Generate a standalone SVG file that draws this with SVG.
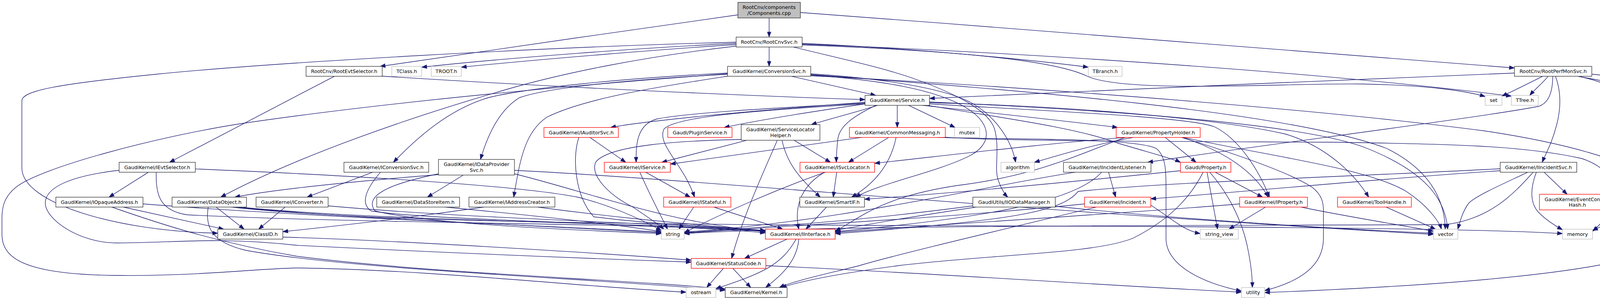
<svg xmlns="http://www.w3.org/2000/svg" width="4525" height="768" viewBox="0 0 4525 768">
<style>
.n rect{fill:#fff;stroke-width:1.33}
.k rect{stroke:#333}
.r rect{stroke:#f00}
.g rect{stroke:#bfbfbf}
.root rect{fill:#bfbfbf;stroke:#333}
text{font-family:"DejaVu Sans","Liberation Sans",sans-serif;font-size:12.7px;text-anchor:middle;fill:#000}
#edges path{fill:none;stroke:#191970;stroke-width:1.33;marker-end:url(#a)}
</style>
<defs>
<marker id="a" markerUnits="userSpaceOnUse" markerWidth="14" markerHeight="10" refX="13" refY="4.7" orient="auto" overflow="visible"><path d="M0,0 L13,4.7 L0,9.4 Z" fill="#191970" stroke="#191970" stroke-width="1"/></marker>
</defs>
<rect x="0" y="0" width="4525" height="768" fill="#fff"/>
<g id="edges">
<path d="M1969,46 L1969,95"/>
<path d="M1889,38 C1600,80 1250,128 973,170"/>
<path d="M2049,32 C2700,80 3400,138 3877,174"/>
<path d="M1969,120.4 L1969,170"/>
<path d="M1884.5,111 C1650,122 1300,148 1079.5,172"/>
<path d="M1884.5,114 C1700,126 1400,150 1181,172"/>
<path d="M1884.5,108 C1400,120 700,160 400,190 C150,215 56,232 56,258 L56,430 C56,520 300,592 557.5,597"/>
<path d="M1884.5,118 C1650,145 1450,185 1300,228 C1050,300 760,400 565,504.7"/>
<path d="M2053.5,111 C2300,122 2600,148 2786,172"/>
<path d="M2053.5,113 C2500,130 3300,175 3869,246"/>
<path d="M2053.5,115 C2400,128 2690,150 2783,195 C2880,240 3300,212 3485,215 C3650,218 3750,232 3802,247"/>
<path d="M2031,120.4 C2150,150 2260,172 2350,205 C2450,242 2530,282 2546,330 C2560,380 2545,430 2555,460 C2562,480 2570,495 2580,504.7"/>
<path d="M856,195.3 L434,415.5"/>
<path d="M978.5,195 C1400,222 1900,245 2214.5,255"/>
<path d="M3877,187 C3500,200 2700,238 2379.5,252"/>
<path d="M3949,195.3 C3910,215 3880,230 3845,246"/>
<path d="M3963,195.3 C3950,212 3930,228 3916,244.2"/>
<path d="M4040,195.3 C4120,210 4220,230 4286,244.2"/>
<path d="M4075,190 C4250,205 4400,230 4458,244.2"/>
<path d="M3982,195.3 C3995,230 3998,270 3985,320 C3972,370 3956,395 3948,415.5"/>
<path d="M3975,195.3 C3975,240 3962,264 3940,272 C3800,300 3200,375 2938,415.5"/>
<path d="M4040,195.3 C4140,215 4225,270 4225,340 L4225,430 C4225,490 4180,545 4077,590"/>
<path d="M2026,195.3 L2242,244.2"/>
<path d="M1862.5,187 C1600,200 1350,225 1250,250 C1150,280 1070,350 1007,415.5"/>
<path d="M1862.5,190 C1600,205 1400,225 1330,250 C1280,280 1250,340 1230,408.2"/>
<path d="M1862.5,195 C1700,220 1500,250 1400,300 C1340,340 1330,420 1315,504.7"/>
<path d="M2075.5,189 C2250,200 2420,225 2490,265 C2550,300 2590,360 2600,415.5"/>
<path d="M2075.5,192 C2250,205 2400,228 2480,280 C2540,320 2540,370 2480,400 C2400,440 2250,470 2190,504.7"/>
<path d="M2075.5,194 C2500,215 3300,270 3800,335 C4100,380 4274,450 4274,520 L4274,600 C4274,700 3600,735 3237.5,749"/>
<path d="M2075.5,191 C2600,230 3300,285 3550,380 C3670,440 3698,520 3700,586.7"/>
<path d="M1862.5,189 C1500,215 1000,260 620,316 C400,350 100,430 40,480 C10,505 5,530 5,560 L5,600 C5,660 60,702 290,705 C500,708 650,688 760,686 C1100,690 1500,735 1756.5,748"/>
<path d="M2214.5,262 C1900,285 1650,310 1563,326.4"/>
<path d="M2214.5,266 C2050,290 1920,312 1854,326.4"/>
<path d="M2247,269.6 C2190,288 2120,305 2077,319.1"/>
<path d="M2297,269.6 L2297,326.4"/>
<path d="M2326,269.6 L2445,326.4"/>
<path d="M2361,269.6 C2500,285 2750,312 2861,326.4"/>
<path d="M2214.5,264 C1950,278 1750,290 1680,305 C1630,320 1628,370 1628.5,415.5"/>
<path d="M2214.5,266 C1900,285 1730,300 1700,330 C1680,370 1750,420 1778,504.7"/>
<path d="M2242,269.6 C2190,295 2150,320 2145,355 C2142,380 2141,400 2141,415.5"/>
<path d="M2375,269.6 C2550,300 2750,325 2860,366 C2940,390 3000,405 3022,415.5"/>
<path d="M2379.5,266 C2700,285 3050,300 3110,325 C3170,355 3220,430 3250,504.7"/>
<path d="M2379.5,263 C2700,270 3100,300 3290,343 C3400,375 3470,450 3504,504.7"/>
<path d="M2379.5,261 C2900,285 3350,320 3500,380 C3650,440 3700,510 3706,586.7"/>
<path d="M3030,351.8 C3250,400 3500,430 3600,490 C3660,530 3685,570 3690,586.7"/>
<path d="M3025,351.8 C3150,390 3300,440 3360,480 C3385,500 3388,520 3388,540 L3388,610 C3388,680 3330,720 3237.5,744"/>
<path d="M2983,351.8 L3062,415.5"/>
<path d="M3028,351.8 C3140,390 3210,440 3247,504.7"/>
<path d="M2883,351.8 C2700,365 2450,395 2239,418"/>
<path d="M2901,351.8 C2800,370 2720,395 2648,415.5"/>
<path d="M2880,351.8 C2750,400 2650,450 2450,475 C2250,505 2200,560 2138,592"/>
<path d="M3111,440.9 L3232,504.7"/>
<path d="M3090,440.9 L3117,586.7"/>
<path d="M3097,440.9 C3140,490 3180,560 3195,640 C3205,690 3206,720 3206,736.1"/>
<path d="M2400,351.8 C2600,358 2900,352 2960,380 C2985,400 2985,440 2985,480 L2985,610 C2985,680 3080,725 3178,745"/>
<path d="M3080,440.9 C3050,500 3000,560 2900,610 C2800,650 2550,650 2300,680 C2150,700 2050,720 2000,736.1"/>
<path d="M3022,437 C2800,460 2500,490 2213,510"/>
<path d="M3240,530 L3146,586.7"/>
<path d="M3330,530 C3450,555 3580,575 3669.5,592"/>
<path d="M3173.5,522 C2900,545 2400,575 2138,595"/>
<path d="M3548,530 L3675,586.7"/>
<path d="M3840.5,437 C3500,460 3200,490 2946,509"/>
<path d="M3840.5,432 C3400,455 3000,465 2760,490 C2720,540 2600,565 2138,598"/>
<path d="M3911,440.9 C3850,470 3780,500 3760,520 C3745,540 3738,565 3732,586.7"/>
<path d="M3925,440.9 C3880,490 3820,560 3700,575 C3000,578 2100,576 1751.5,598"/>
<path d="M3933,440.9 C3918,480 3915,520 3940,545 C3960,565 3985,580 4000,588"/>
<path d="M3953,440.9 L4012,497.4"/>
<path d="M2838,440.9 L2856,504.7"/>
<path d="M2753,440.9 C2500,480 2150,568 1751.5,594"/>
<path d="M2820,440.9 C2750,520 2500,560 2138,593"/>
<path d="M2807,530 C2600,580 2300,650 2200,680 C2100,705 2030,720 1995,736.1"/>
<path d="M2776.5,522 C2400,560 2100,572 1751.5,597"/>
<path d="M2946,525 C3000,560 3030,590 3072.5,598"/>
<path d="M2701.5,528 C3000,560 3400,585 3669.5,597"/>
<path d="M2490.5,527 C2200,565 2050,574 1751.5,596"/>
<path d="M2500,530 C2300,560 2200,578 2138,590"/>
<path d="M1912,359.1 L1694,415.5"/>
<path d="M2033,359.1 L2126,415.5"/>
<path d="M2002,359.1 C2015,420 2050,460 2100,504.7"/>
<path d="M1990,359.1 C1950,450 1900,560 1873,661.6"/>
<path d="M1897.5,357 C1750,360 1560,370 1525,415 C1510,450 1560,500 1620,530 C1650,550 1680,570 1700,586.7"/>
<path d="M2205,351.8 C2000,380 1850,400 1716,420"/>
<path d="M2275,351.8 L2172,415.5"/>
<path d="M2294,351.8 C2280,420 2240,470 2180,504.7"/>
<path d="M2400,350 C2550,362 3000,362 3400,364 C3700,368 3900,372 4050,406 C4150,440 4160,520 4077,592"/>
<path d="M1638,440.9 C1660,490 1690,550 1709,586.7"/>
<path d="M1653,440.9 L1767,504.7"/>
<path d="M1776,530 L1738,586.7"/>
<path d="M1827,530 L2004,586.7"/>
<path d="M2142,440.9 L2133,504.7"/>
<path d="M2111,440.9 C2060,470 2030,520 2045,586.7"/>
<path d="M2113,440.9 C2000,480 1850,545 1751.5,596"/>
<path d="M2116,530 L2063,586.7"/>
<path d="M2015,612.1 L1906,661.6"/>
<path d="M2038,612.1 C2000,680 1950,700 1832.5,739"/>
<path d="M2045,612.1 C2040,670 2000,705 1960,736.1"/>
<path d="M1852,687 L1809,736.1"/>
<path d="M1876,687 L1922,736.1"/>
<path d="M1960.5,680 C2400,700 2900,735 3178,748"/>
<path d="M380,440.9 L279,504.7"/>
<path d="M305,436 C180,450 116,480 116,520 C116,560 200,622 300,622 C450,622 550,605 760,628 C1200,650 1600,665 1769.5,671"/>
<path d="M400,440.9 C398,500 410,540 480,550 C1000,575 1700,570 1959.5,593"/>
<path d="M500,432.4 C800,445 1300,470 1480,505 C1560,525 1640,560 1693,590"/>
<path d="M315,530 L573,586.7"/>
<path d="M286,530 C400,570 550,620 760,656 C1100,700 1600,715 1856.5,740"/>
<path d="M366,522 C800,556 1400,578 1693,594"/>
<path d="M553,530 L625,586.7"/>
<path d="M533,530 C525,580 540,620 630,641 C900,690 1500,712 1856.5,743"/>
<path d="M591,530 C900,565 1500,575 2500,578 C3200,580 3800,585 4000,598"/>
<path d="M600,530 C900,560 1400,578 1693,596"/>
<path d="M612,530 C1000,568 1700,570 1959.5,592"/>
<path d="M730,530 L662,586.7"/>
<path d="M840,527 C1200,560 1700,571 1959.5,590"/>
<path d="M954,440.9 L786,504.7"/>
<path d="M974,440.9 C940,480 920,520 950,540 C1100,565 1700,572 1959.5,596"/>
<path d="M1122.5,447 C900,465 700,485 601,504.7"/>
<path d="M1186,448.2 L1094,504.7"/>
<path d="M1122.5,445 C1000,470 930,500 960,540 C1100,575 1500,590 1693,598"/>
<path d="M1317,436 C1800,460 2600,540 3669.5,600"/>
<path d="M1317,445 C1500,490 1700,568 1959.5,593"/>
<path d="M1138,530 C1400,555 1600,578 1693,593"/>
<path d="M1240,530 C1100,550 900,575 724,593"/>
<path d="M1375,530 C1600,560 1750,572 1959.5,591"/>
<path d="M1510,351.8 L1602,415.5"/>
<path d="M1482,351.8 C1465,400 1470,500 1520,555 C1700,578 1800,575 1959.5,592"/>
<path d="M724,607 C1000,615 1500,645 1769.5,666"/>
</g>
<g id="node-comp" class="n root"><rect x="1889" y="6" width="160" height="40"/><text x="1969" y="22.5">RootCnv/components</text><text x="1969" y="37.5">/Components.cpp</text></g>
<g id="node-rcs" class="n k"><rect x="1884.5" y="95" width="169" height="25.4"/><text x="1969" y="112.2">RootCnv/RootCnvSvc.h</text></g>
<g id="node-res" class="n k"><rect x="783.5" y="169.9" width="195" height="25.4"/><text x="881" y="187.1">RootCnv/RootEvtSelector.h</text></g>
<g id="node-tclass" class="n g"><rect x="1003" y="169.9" width="76.5" height="25.4"/><text x="1041.3" y="187.1">TClass.h</text></g>
<g id="node-troot" class="n g"><rect x="1104" y="169.9" width="77" height="25.4"/><text x="1142.5" y="187.1">TROOT.h</text></g>
<g id="node-cs" class="n k"><rect x="1862.5" y="169.9" width="213" height="25.4"/><text x="1969" y="187.1">GaudiKernel/ConversionSvc.h</text></g>
<g id="node-tbranch" class="n g"><rect x="2786" y="169.9" width="86.5" height="25.4"/><text x="2829.3" y="187.1">TBranch.h</text></g>
<g id="node-rpm" class="n k"><rect x="3877" y="169.9" width="198" height="25.4"/><text x="3976" y="187.1">RootCnv/RootPerfMonSvc.h</text></g>
<g id="node-svc" class="n k"><rect x="2214.5" y="244.2" width="165" height="25.4"/><text x="2297" y="261.4">GaudiKernel/Service.h</text></g>
<g id="node-set" class="n g"><rect x="3802" y="244.2" width="43" height="25.4"/><text x="3823.5" y="261.4">set</text></g>
<g id="node-ttree" class="n g"><rect x="3869" y="244.2" width="69" height="25.4"/><text x="3903.5" y="261.4">TTree.h</text></g>
<g id="node-sps" class="n k"><rect x="4261.5" y="244.2" width="169.5" height="25.4"/><text x="4346.3" y="261.4">RootCnv/SysProcStat.h</text></g>
<g id="node-tfile" class="n g"><rect x="4455.5" y="244.2" width="64.5" height="25.4"/><text x="4487.8" y="261.4">TFile.h</text></g>
<g id="node-aud" class="n r"><rect x="1392.5" y="326.4" width="190.5" height="25.4"/><text x="1487.8" y="343.6">GaudiKernel/IAuditorSvc.h</text></g>
<g id="node-plugin" class="n r"><rect x="1709.5" y="326.4" width="164.5" height="25.4"/><text x="1791.8" y="343.6">Gaudi/PluginService.h</text></g>
<g id="node-slh" class="n k"><rect x="1897.5" y="319.1" width="201.5" height="40"/><text x="1998.3" y="336.3">GaudiKernel/ServiceLocator</text><text x="1998.3" y="350.9">Helper.h</text></g>
<g id="node-cm" class="n r"><rect x="2174.5" y="326.4" width="245.5" height="25.4"/><text x="2297.3" y="343.6">GaudiKernel/CommonMessaging.h</text></g>
<g id="node-mutex" class="n g"><rect x="2443.5" y="326.4" width="64.5" height="25.4"/><text x="2475.8" y="343.6">mutex</text></g>
<g id="node-ph" class="n r"><rect x="2857.5" y="326.4" width="215" height="25.4"/><text x="2965" y="343.6">GaudiKernel/PropertyHolder.h</text></g>
<g id="node-ies" class="n k"><rect x="305" y="415.5" width="195" height="25.4"/><text x="402.5" y="432.7">GaudiKernel/IEvtSelector.h</text></g>
<g id="node-ics" class="n k"><rect x="880.5" y="415.5" width="217" height="25.4"/><text x="989" y="432.7">GaudiKernel/IConversionSvc.h</text></g>
<g id="node-idp" class="n k"><rect x="1122.5" y="408.2" width="194.5" height="40"/><text x="1219.8" y="425.4">GaudiKernel/IDataProvider</text><text x="1219.8" y="440">Svc.h</text></g>
<g id="node-isvc" class="n r"><rect x="1547" y="415.5" width="169" height="25.4"/><text x="1631.5" y="432.7">GaudiKernel/IService.h</text></g>
<g id="node-isl" class="n r"><rect x="2048" y="415.5" width="191" height="25.4"/><text x="2143.5" y="432.7">GaudiKernel/ISvcLocator.h</text></g>
<g id="node-algo" class="n g"><rect x="2562.5" y="415.5" width="85.5" height="25.4"/><text x="2605.3" y="432.7">algorithm</text></g>
<g id="node-iil" class="n k"><rect x="2722.5" y="415.5" width="224" height="25.4"/><text x="2834.5" y="432.7">GaudiKernel/IIncidentListener.h</text></g>
<g id="node-prop" class="n r"><rect x="3022" y="415.5" width="129" height="25.4"/><text x="3086.5" y="432.7">Gaudi/Property.h</text></g>
<g id="node-iis" class="n k"><rect x="3840.5" y="415.5" width="196" height="25.4"/><text x="3938.5" y="432.7">GaudiKernel/IIncidentSvc.h</text></g>
<g id="node-ioa" class="n k"><rect x="143" y="504.7" width="223" height="25.4"/><text x="254.5" y="521.9">GaudiKernel/IOpaqueAddress.h</text></g>
<g id="node-do" class="n k"><rect x="440.5" y="504.7" width="190.5" height="25.4"/><text x="535.8" y="521.9">GaudiKernel/DataObject.h</text></g>
<g id="node-icv" class="n k"><rect x="655.5" y="504.7" width="184.5" height="25.4"/><text x="747.8" y="521.9">GaudiKernel/IConverter.h</text></g>
<g id="node-dsi" class="n k"><rect x="964.5" y="504.7" width="212" height="25.4"/><text x="1070.5" y="521.9">GaudiKernel/DataStoreItem.h</text></g>
<g id="node-iac" class="n k"><rect x="1200.5" y="504.7" width="220" height="25.4"/><text x="1310.5" y="521.9">GaudiKernel/IAddressCreator.h</text></g>
<g id="node-ist" class="n r"><rect x="1699" y="504.7" width="172" height="25.4"/><text x="1785" y="521.9">GaudiKernel/IStateful.h</text></g>
<g id="node-sif" class="n k"><rect x="2047.5" y="504.7" width="165.5" height="25.4"/><text x="2130.3" y="521.9">GaudiKernel/SmartIF.h</text></g>
<g id="node-iio" class="n k"><rect x="2490.5" y="504.7" width="211" height="25.4"/><text x="2596" y="521.9">GaudiUtils/IIODataManager.h</text></g>
<g id="node-inc" class="n r"><rect x="2776.5" y="504.7" width="169.5" height="25.4"/><text x="2861.3" y="521.9">GaudiKernel/Incident.h</text></g>
<g id="node-iprop" class="n r"><rect x="3173.5" y="504.7" width="173.5" height="25.4"/><text x="3260.3" y="521.9">GaudiKernel/IProperty.h</text></g>
<g id="node-th" class="n r"><rect x="3424" y="504.7" width="189" height="25.4"/><text x="3518.5" y="521.9">GaudiKernel/ToolHandle.h</text></g>
<g id="node-ech" class="n r"><rect x="3941" y="497.4" width="194" height="40"/><text x="4038" y="514.6">GaudiKernel/EventContext</text><text x="4038" y="529.2">Hash.h</text></g>
<g id="node-cid" class="n k"><rect x="557.5" y="586.7" width="166.5" height="25.4"/><text x="640.8" y="603.9">GaudiKernel/ClassID.h</text></g>
<g id="node-string" class="n g"><rect x="1693" y="586.7" width="58.5" height="25.4"/><text x="1722.3" y="603.9">string</text></g>
<g id="node-ii" class="n r"><rect x="1959.5" y="586.7" width="178.5" height="25.4"/><text x="2048.8" y="603.9">GaudiKernel/IInterface.h</text></g>
<g id="node-sv" class="n g"><rect x="3072.5" y="586.7" width="97.5" height="25.4"/><text x="3121.3" y="603.9">string_view</text></g>
<g id="node-vec" class="n g"><rect x="3669.5" y="586.7" width="62.5" height="25.4"/><text x="3700.8" y="603.9">vector</text></g>
<g id="node-mem" class="n g"><rect x="4000" y="586.7" width="77" height="25.4"/><text x="4038.5" y="603.9">memory</text></g>
<g id="node-sc" class="n r"><rect x="1769.5" y="661.6" width="191" height="25.4"/><text x="1865" y="678.8">GaudiKernel/StatusCode.h</text></g>
<g id="node-ost" class="n g"><rect x="1756.5" y="736.1" width="76" height="25.4"/><text x="1794.5" y="753.3">ostream</text></g>
<g id="node-kern" class="n k"><rect x="1856.5" y="736.1" width="158.5" height="25.4"/><text x="1935.8" y="753.3">GaudiKernel/Kernel.h</text></g>
<g id="node-util" class="n g"><rect x="3178" y="736.1" width="59.5" height="25.4"/><text x="3207.8" y="753.3">utility</text></g>
</svg>
